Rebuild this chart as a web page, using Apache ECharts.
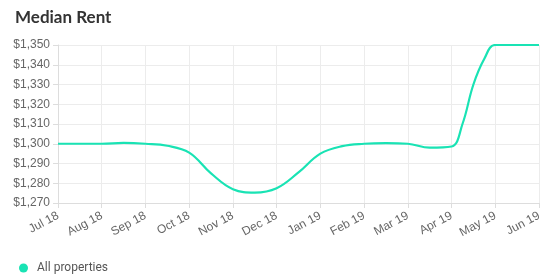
<!DOCTYPE html>
<html><head><meta charset="utf-8">
<script src="https://cdn.jsdelivr.net/npm/echarts@6/dist/echarts.min.js"></script>
<style>html,body{margin:0;padding:0;background:#fff}#c{width:552px;height:279px}</style>
</head><body><div id="c"></div>
<script>
const monthLabels = ['Jul 18','Aug 18','Sep 18','Oct 18','Nov 18','Dec 18','Jan 19','Feb 19','Mar 19','Apr 19','May 19','Jun 19'];
// position in months from Jul 18
const pointMonths = [0,1,1.5,2,2.5,3,3.5,4,4.5,5,5.5,6,6.5,7,7.5,8,8.5,9,9.25,9.5,9.75,10,11];
const rentValues = [1300,1300,1300.4,1300,1299,1295.5,1285,1277,1275.3,1277.5,1285.5,1295,1298.8,1300,1300.3,1300,1298,1298.6,1310,1330,1343,1350,1350];
const yTicks = {min:1270, max:1350, step:10};

const chart = echarts.init(document.getElementById('c'), null, {renderer:'canvas'});
chart.setOption({
  animation:false,
  title:{text:'Median Rent', left:10, top:4, textStyle:{fontFamily:'Lato', fontSize:17, fontWeight:'bold', color:'#333'}},
  grid:{left:58, right:13, top:45, bottom:76},
  legend:{left:14, top:257, icon:'circle', itemWidth:9, itemHeight:9,
    textStyle:{fontFamily:'Roboto', fontSize:12, color:'#555', padding:[0,0,0,4]}, data:['All properties']},
  xAxis:{type:'value', min:0, max:monthLabels.length-1, interval:1,
    axisLine:{show:true, lineStyle:{color:'#ddd'}},
    axisTick:{show:true, length:5, lineStyle:{color:'#ddd'}},
    splitLine:{show:true, lineStyle:{color:'#ececec'}},
    axisLabel:{rotate:28, fontFamily:'Liberation Sans', fontSize:12, color:'#666', margin:12,
      formatter:v=>monthLabels[Math.round(v)]}},
  yAxis:{type:'value', min:yTicks.min, max:yTicks.max, interval:yTicks.step,
    axisLine:{show:true, lineStyle:{color:'#ddd'}},
    axisTick:{show:true, length:5, lineStyle:{color:'#ddd'}},
    splitLine:{show:true, lineStyle:{color:'#ececec'}},
    axisLabel:{fontFamily:'Liberation Sans', fontSize:12, color:'#666', margin:8,
      formatter:v=>'$'+v.toLocaleString('en-US')}},
  series:[{name:'All properties', type:'line', smooth:0.4, smoothConstraint:false, showSymbol:false,
    itemStyle:{color:'#19e3b4'}, lineStyle:{color:'#19e3b4', width:2.2},
    data:pointMonths.map((m,i)=>[m, rentValues[i]])}]
});
</script></body></html>
